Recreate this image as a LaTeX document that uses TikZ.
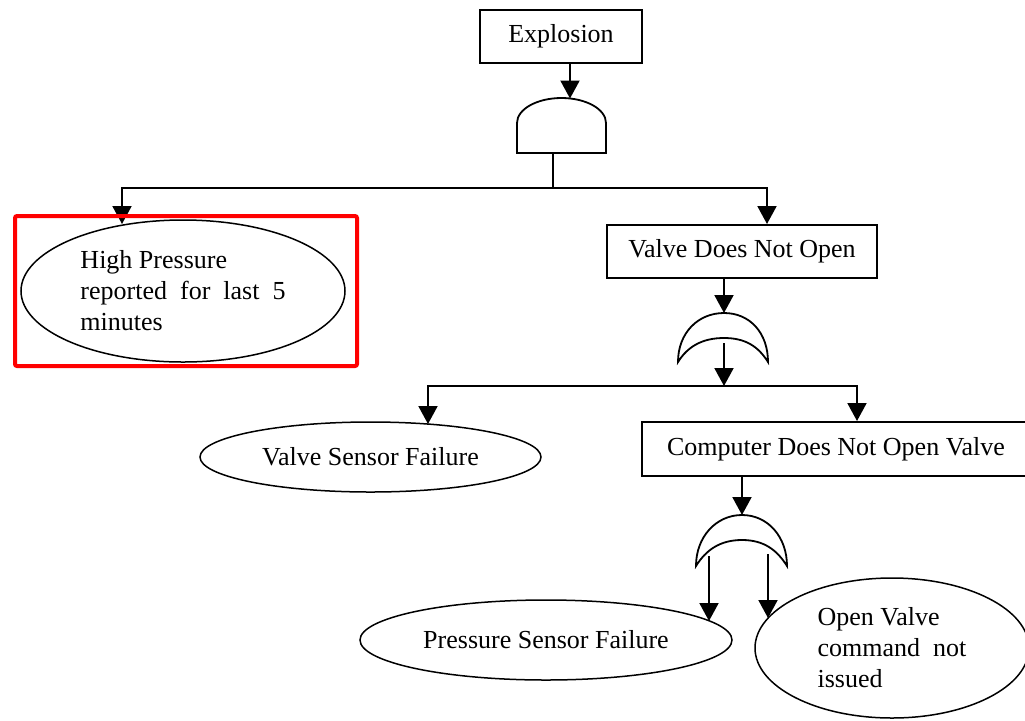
\documentclass[tikz,border=0pt]{standalone}
\usepackage{fontspec}
\setmainfont{Liberation Serif}
\usetikzlibrary{arrows.meta,shapes.geometric,calc}

\begin{document}
\begin{tikzpicture}[x=0.5pt,y=-0.5pt,
  every node/.style={font=\fontsize{13}{15.5}\selectfont, inner sep=0pt},
  event/.style={draw, line width=1pt, minimum height=26.5pt},
  basic/.style={draw, ellipse, line width=0.75pt},
  link/.style={line width=1pt},
  arr/.style={link, -{Triangle[width=9.5pt,length=9pt]}},
  gate/.style={draw, line width=0.9pt, fill=white},
  highlight/.style={draw=red, line width=2pt, rounded corners=1pt}]
\useasboundingbox (0,0) rectangle (1025,720);
\begin{scope}
\clip (0,0) rectangle (1025,720);

% events
\node[event, minimum width=81pt] (expl) at (561,36.5) {Explosion};
\node[event, minimum width=135pt] (vdno) at (742,251.5) {Valve Does Not Open};
\node[event, minimum width=194pt, minimum height=27pt] (cdno) at (836,449) {Computer Does Not Open Valve};

% basic events
\node[basic, minimum width=162pt, minimum height=71pt, align=left] (hp) at (183,291)
  {High Pressure\\reported\ \ for\ \ last\ \ 5\\minutes};
\node[basic, minimum width=170.5pt, minimum height=35pt] (vsf) at (370.5,457) {Valve Sensor Failure};
\node[basic, minimum width=186pt, minimum height=40pt] (psf) at (546,640) {Pressure Sensor Failure};
\node[basic, minimum width=137pt, minimum height=70pt, align=left] (ovc) at (892,648)
  {Open Valve\\command\ \ not\\issued};

% AND gate
\draw[gate] (517,153) -- (517,123)
  .. controls (517,109.2) and (536.9,98) .. (561.5,98)
  .. controls (586.1,98) and (606,109.2) .. (606,123) -- (606,153) -- cycle;
\coordinate (andin) at (570,98.5);
\coordinate (andout) at (553,153);

% OR gate under "Valve Does Not Open"
\draw[gate] (678,362) .. controls (678,333) and (698,313) .. (724,313)
  .. controls (750,313) and (768,333) .. (768,362)
  .. controls (758,346) and (745,338) .. (724,338)
  .. controls (703,338) and (688,346) .. (678,362) -- cycle;
\coordinate (or1in) at (724,313);
\coordinate (or1out) at (724,343);

% OR gate under "Computer Does Not Open Valve"
\draw[gate] (696,566) .. controls (696,537) and (716,515) .. (742,515)
  .. controls (768,515) and (787,537) .. (787,566)
  .. controls (777,550) and (764,540) .. (742,540)
  .. controls (720,540) and (706,550) .. (696,566) -- cycle;
\coordinate (or2in) at (742,515);
\coordinate (or2L) at (709,556);
\coordinate (or2R) at (768,554);

% bus lines and input points
\coordinate (busL) at (122,188);
\coordinate (hpin) at (122,224);
\coordinate (vdnoIn) at ($(vdno.north)+(25,0)$);
\coordinate (bus2) at (724,386);
\coordinate (vsfIn) at (428,424);
\coordinate (cdnoIn) at ($(cdno.north)+(21,0)$);
\coordinate (psfIn) at (709,621);
\coordinate (ovcIn) at (768,618);

% connectors
\draw[arr] (expl.south -| andin) -- (andin);
\draw[arr] (andout) |- (busL) -- (hpin);
\draw[arr] (andout |- busL) -| (vdnoIn);
\draw[arr] (vdno.south -| or1in) -- (or1in);
\draw[arr] (or1out) -- (bus2);
\draw[arr] (bus2) -| (vsfIn);
\draw[arr] (bus2) -| (cdnoIn);
\draw[arr] (cdno.south -| or2in) -- (or2in);
\draw[arr] (or2L) -- (psfIn);
\draw[arr] (or2R) -- (ovcIn);

% highlight frame
\node[highlight, minimum width=171pt, minimum height=75pt] (mark) at (186,291) {};
\end{scope}
\end{tikzpicture}
\end{document}
